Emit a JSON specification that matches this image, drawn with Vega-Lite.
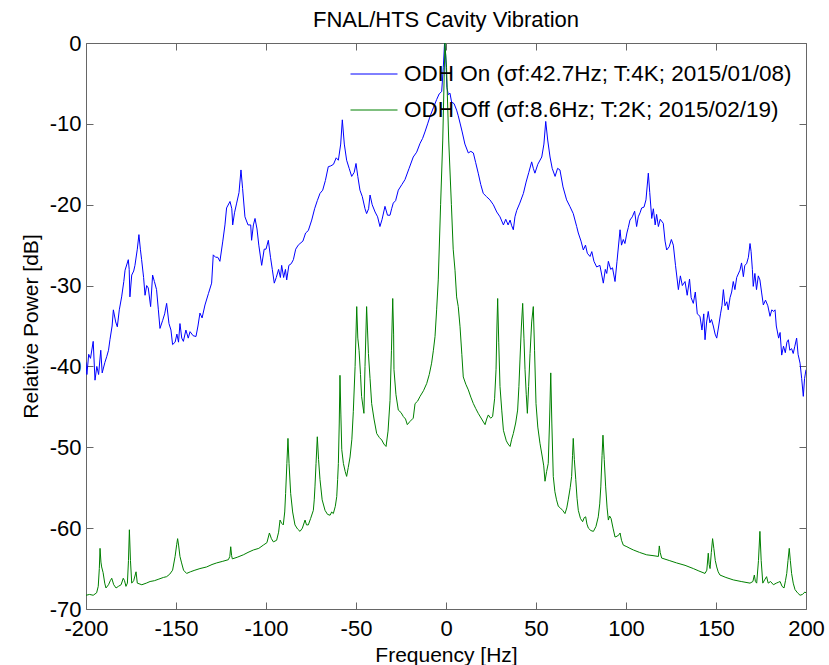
{
  "$schema": "https://vega.github.io/schema/vega-lite/v6.json",
  "width": 720,
  "height": 566,
  "autosize": "none",
  "padding": {"left": 86, "top": 43, "right": 23, "bottom": 56},
  "background": "white",
  "title": {"text": "FNAL/HTS Cavity Vibration", "fontSize": 22, "font": "Liberation Sans", "fontWeight": "normal", "color": "black", "anchor": "middle", "baseline": "bottom", "offset": -22},
  "config": {"view": {"stroke": "#666666", "strokeWidth": 1}, "font": "Liberation Sans"},
  "datasets": {
    "on": [
      {"f":-200,"db":-39.5},{"f":-199.5,"db":-41},{"f":-198.5,"db":-38.5},{"f":-197.5,"db":-39},{"f":-196,"db":-36.9},{"f":-195,"db":-41.7},{"f":-194,"db":-40},{"f":-193,"db":-41},{"f":-191.8,"db":-38},{"f":-191,"db":-40.8},{"f":-189.5,"db":-39.5},{"f":-188.5,"db":-38.8},{"f":-187.5,"db":-38},{"f":-186.7,"db":-36.7},{"f":-185.5,"db":-35},{"f":-184.8,"db":-33},{"f":-183.5,"db":-34.5},{"f":-182.6,"db":-35.1},{"f":-181.5,"db":-33},{"f":-180.2,"db":-31.4},{"f":-179,"db":-29.5},{"f":-178.3,"db":-28.1},{"f":-176.5,"db":-26.8},{"f":-176,"db":-28},{"f":-175.6,"db":-31.4},{"f":-174.6,"db":-28.7},{"f":-173.5,"db":-28.2},{"f":-172.8,"db":-27.5},{"f":-171.5,"db":-25.5},{"f":-170.6,"db":-23.7},{"f":-169.8,"db":-25.5},{"f":-169.1,"db":-26.8},{"f":-168,"db":-29},{"f":-167.2,"db":-31.2},{"f":-166.3,"db":-30},{"f":-165.4,"db":-30.3},{"f":-164.1,"db":-32.6},{"f":-163,"db":-28.7},{"f":-162,"db":-29.5},{"f":-160.8,"db":-30.5},{"f":-159.8,"db":-33},{"f":-158.9,"db":-35.3},{"f":-157.4,"db":-34.3},{"f":-156.3,"db":-33.5},{"f":-155.2,"db":-32.2},{"f":-153.9,"db":-34.7},{"f":-152.8,"db":-35.5},{"f":-151.9,"db":-37.3},{"f":-150.5,"db":-37},{"f":-149.5,"db":-36},{"f":-148.6,"db":-37},{"f":-147.8,"db":-34.7},{"f":-146.8,"db":-36.5},{"f":-145.9,"db":-36.9},{"f":-144.5,"db":-35.5},{"f":-143.2,"db":-36.5},{"f":-142.2,"db":-35.7},{"f":-140.5,"db":-36.2},{"f":-138.9,"db":-36.3},{"f":-137.8,"db":-35},{"f":-136.7,"db":-33.4},{"f":-135.5,"db":-34},{"f":-133.9,"db":-32.4},{"f":-132,"db":-31},{"f":-130.2,"db":-29.7},{"f":-129.3,"db":-26.2},{"f":-128,"db":-26.5},{"f":-126.8,"db":-26.5},{"f":-125.6,"db":-27},{"f":-124,"db":-24.5},{"f":-122.8,"db":-22.5},{"f":-121.9,"db":-20.4},{"f":-120,"db":-19.6},{"f":-119,"db":-20.5},{"f":-118.5,"db":-22.5},{"f":-117.5,"db":-21},{"f":-116.3,"db":-19.8},{"f":-115,"db":-18.5},{"f":-113.9,"db":-15.7},{"f":-113,"db":-18},{"f":-111.7,"db":-21.5},{"f":-110,"db":-22.5},{"f":-108.5,"db":-22.5},{"f":-108,"db":-24.4},{"f":-107,"db":-22.5},{"f":-106.1,"db":-21.7},{"f":-105,"db":-23},{"f":-104,"db":-25},{"f":-102.4,"db":-27.5},{"f":-101,"db":-25.5},{"f":-100,"db":-25.5},{"f":-98.7,"db":-24.4},{"f":-97.5,"db":-26.5},{"f":-96.5,"db":-28},{"f":-95.4,"db":-29.7},{"f":-94.3,"db":-29},{"f":-93,"db":-28},{"f":-92,"db":-29},{"f":-91.3,"db":-27.5},{"f":-90.2,"db":-29},{"f":-89.2,"db":-28},{"f":-88.5,"db":-29.3},{"f":-87.3,"db":-27.5},{"f":-86,"db":-27.3},{"f":-84.8,"db":-26.8},{"f":-83.5,"db":-25.5},{"f":-82.1,"db":-25},{"f":-81.1,"db":-24.8},{"f":-79.5,"db":-24.5},{"f":-78,"db":-23.5},{"f":-76.5,"db":-23.2},{"f":-74.6,"db":-21.9},{"f":-73,"db":-20.5},{"f":-71.5,"db":-19.5},{"f":-70,"db":-18.6},{"f":-68.5,"db":-18.2},{"f":-67,"db":-17},{"f":-65.4,"db":-15.3},{"f":-64,"db":-15.2},{"f":-62.5,"db":-15},{"f":-61,"db":-14.2},{"f":-59.8,"db":-14.5},{"f":-58.5,"db":-12.5},{"f":-57.6,"db":-9.5},{"f":-56.5,"db":-12.5},{"f":-55.2,"db":-14.5},{"f":-53.8,"db":-15.5},{"f":-52.4,"db":-16.5},{"f":-51,"db":-16},{"f":-50,"db":-14.9},{"f":-49,"db":-16.5},{"f":-47.8,"db":-18.2},{"f":-46.5,"db":-19},{"f":-45,"db":-20.5},{"f":-44.1,"db":-21.1},{"f":-43,"db":-20.5},{"f":-42.2,"db":-18.8},{"f":-41,"db":-20},{"f":-39.4,"db":-20.9},{"f":-38,"db":-21.5},{"f":-36.7,"db":-22.7},{"f":-35.5,"db":-21.8},{"f":-33.9,"db":-20.2},{"f":-32.5,"db":-21.3},{"f":-31.1,"db":-21.3},{"f":-30.2,"db":-20.5},{"f":-29.3,"db":-19.8},{"f":-28,"db":-19.5},{"f":-26.5,"db":-18.2},{"f":-24.5,"db":-17.5},{"f":-22.8,"db":-16.9},{"f":-20.5,"db":-15.5},{"f":-18.2,"db":-14.1},{"f":-16.3,"db":-13.5},{"f":-14.4,"db":-12.4},{"f":-13,"db":-11.8},{"f":-11.7,"db":-11},{"f":-10.2,"db":-10},{"f":-8.9,"db":-9.1},{"f":-7,"db":-8},{"f":-5.2,"db":-7},{"f":-3.8,"db":-6.3},{"f":-2.4,"db":-6},{"f":-1.5,"db":-3},{"f":-0.8,"db":0},{"f":-0.2,"db":-1.5},{"f":0.5,"db":-5.5},{"f":1.3,"db":-6.4},{"f":2.2,"db":-6.2},{"f":3.1,"db":-7.3},{"f":4.5,"db":-7.5},{"f":5.9,"db":-8.3},{"f":6.8,"db":-9},{"f":7.8,"db":-9.9},{"f":9,"db":-11},{"f":10.5,"db":-12.5},{"f":12.4,"db":-13.6},{"f":13.8,"db":-13.4},{"f":15.2,"db":-13.6},{"f":16.5,"db":-14.8},{"f":17.9,"db":-16.1},{"f":19.3,"db":-17.5},{"f":20.7,"db":-18.6},{"f":22.5,"db":-19},{"f":24.4,"db":-19.4},{"f":26.3,"db":-20},{"f":28.2,"db":-20.9},{"f":30,"db":-21.5},{"f":31.9,"db":-22.5},{"f":33.2,"db":-21.8},{"f":34.5,"db":-22.5},{"f":35.6,"db":-21.9},{"f":36.5,"db":-22.6},{"f":37.4,"db":-23.1},{"f":38.3,"db":-21.5},{"f":39.3,"db":-20.7},{"f":41,"db":-19.8},{"f":43,"db":-18.6},{"f":44.5,"db":-17.2},{"f":46,"db":-16},{"f":47.6,"db":-14.7},{"f":48.5,"db":-15.5},{"f":49.4,"db":-16.1},{"f":51,"db":-15},{"f":53.2,"db":-14.1},{"f":54.4,"db":-12.5},{"f":55.4,"db":-9.7},{"f":56.5,"db":-12},{"f":57.8,"db":-14.1},{"f":59,"db":-15.5},{"f":60.6,"db":-16.5},{"f":62,"db":-15.5},{"f":63.3,"db":-15.7},{"f":65,"db":-17.8},{"f":67,"db":-19.4},{"f":68.8,"db":-20.2},{"f":70.7,"db":-21.1},{"f":72.6,"db":-22.7},{"f":73.5,"db":-23.5},{"f":75,"db":-24.5},{"f":76.3,"db":-25.6},{"f":77.5,"db":-25},{"f":78.5,"db":-26},{"f":80,"db":-26.4},{"f":81,"db":-25.8},{"f":82.2,"db":-27},{"f":83.7,"db":-27.7},{"f":85.5,"db":-27.5},{"f":87.4,"db":-29.7},{"f":88.5,"db":-28},{"f":89.3,"db":-28.5},{"f":90.2,"db":-27},{"f":91.5,"db":-28},{"f":92.5,"db":-27.8},{"f":93.9,"db":-29.5},{"f":95,"db":-27},{"f":96.7,"db":-23.1},{"f":97.5,"db":-25},{"f":98.5,"db":-24.3},{"f":99.4,"db":-24.8},{"f":100.5,"db":-23.5},{"f":101.3,"db":-22.8},{"f":102.2,"db":-21.9},{"f":103.5,"db":-21.5},{"f":104.8,"db":-20.8},{"f":105.9,"db":-22.7},{"f":106.8,"db":-21.5},{"f":107.8,"db":-21},{"f":108.7,"db":-20.4},{"f":110,"db":-20.3},{"f":111.1,"db":-19.4},{"f":112.4,"db":-16.1},{"f":113.2,"db":-18.5},{"f":114.3,"db":-21.7},{"f":115.2,"db":-20.5},{"f":116.2,"db":-22.5},{"f":117,"db":-21.2},{"f":118,"db":-22.7},{"f":119,"db":-21.8},{"f":120.7,"db":-22.3},{"f":121.7,"db":-24.5},{"f":122.6,"db":-25.6},{"f":124,"db":-25.2},{"f":125.2,"db":-24.3},{"f":126.3,"db":-25},{"f":127.5,"db":-27.5},{"f":129.1,"db":-30.5},{"f":130.2,"db":-28.8},{"f":131.3,"db":-30},{"f":132.8,"db":-29.5},{"f":134,"db":-31.2},{"f":135.3,"db":-29.2},{"f":136.2,"db":-31.5},{"f":137.4,"db":-32.2},{"f":138.5,"db":-30.8},{"f":139.6,"db":-33.5},{"f":141.1,"db":-33.8},{"f":142.2,"db":-35.5},{"f":143.2,"db":-33.5},{"f":143.9,"db":-36.7},{"f":144.8,"db":-34.5},{"f":145.7,"db":-33.2},{"f":146.6,"db":-34.6},{"f":147.5,"db":-34.2},{"f":148.5,"db":-35},{"f":149.5,"db":-36},{"f":150.4,"db":-36.5},{"f":151.5,"db":-35},{"f":152.5,"db":-33.5},{"f":153.3,"db":-32.5},{"f":154.1,"db":-30.5},{"f":155,"db":-32.5},{"f":156,"db":-32},{"f":156.8,"db":-33},{"f":157.8,"db":-31.5},{"f":158.7,"db":-30.8},{"f":159.6,"db":-29.5},{"f":160.5,"db":-30.5},{"f":161.5,"db":-29},{"f":163.3,"db":-28.1},{"f":164.2,"db":-27.2},{"f":165.2,"db":-28.9},{"f":166,"db":-27.5},{"f":167,"db":-27.3},{"f":168,"db":-26.5},{"f":168.9,"db":-24.8},{"f":169.5,"db":-25.8},{"f":170.2,"db":-28},{"f":170.7,"db":-30.1},{"f":171.6,"db":-28.5},{"f":172.5,"db":-30.5},{"f":173.5,"db":-28.8},{"f":174.4,"db":-29.3},{"f":175.3,"db":-30.8},{"f":176.3,"db":-32.4},{"f":177.5,"db":-31.8},{"f":178.8,"db":-32.5},{"f":180,"db":-33.8},{"f":181,"db":-33},{"f":182,"db":-33.2},{"f":182.8,"db":-33},{"f":183.5,"db":-35},{"f":184.8,"db":-36.5},{"f":185.6,"db":-35.8},{"f":186.5,"db":-38.6},{"f":187.5,"db":-37.5},{"f":188.5,"db":-38.3},{"f":189.4,"db":-37},{"f":190.2,"db":-36.7},{"f":191,"db":-38},{"f":192,"db":-37.8},{"f":192.9,"db":-38.4},{"f":193.8,"db":-37.5},{"f":194.8,"db":-36.5},{"f":195.6,"db":-38.5},{"f":196.7,"db":-39.6},{"f":197.6,"db":-41.5},{"f":198.5,"db":-43.7},{"f":199.2,"db":-41.5},{"f":200,"db":-40.4}
    ],
    "off": [
      {"f":-200,"db":-68.3},{"f":-198,"db":-68.2},{"f":-196,"db":-68.3},{"f":-194.1,"db":-68},{"f":-193.2,"db":-67.2},{"f":-192.6,"db":-65},{"f":-192.2,"db":-62.5},{"f":-191.7,"db":-64.2},{"f":-191.3,"db":-64.8},{"f":-190.5,"db":-65.5},{"f":-189.6,"db":-66.8},{"f":-188.9,"db":-67.4},{"f":-187.5,"db":-67},{"f":-186.5,"db":-66.5},{"f":-185.7,"db":-66.2},{"f":-184.6,"db":-67},{"f":-183.3,"db":-67.4},{"f":-182,"db":-67.2},{"f":-180.5,"db":-67},{"f":-179.3,"db":-66.2},{"f":-178.6,"db":-66.5},{"f":-177.8,"db":-67.2},{"f":-177,"db":-66.8},{"f":-176.4,"db":-64},{"f":-175.9,"db":-60.2},{"f":-175.3,"db":-64},{"f":-174.6,"db":-66.8},{"f":-173.5,"db":-66.5},{"f":-172.2,"db":-65.4},{"f":-171.5,"db":-66.8},{"f":-169,"db":-67},{"f":-166.5,"db":-66.8},{"f":-164.4,"db":-66.6},{"f":-162,"db":-66.5},{"f":-159.5,"db":-66.3},{"f":-157,"db":-66.1},{"f":-155.2,"db":-66},{"f":-153.5,"db":-65.7},{"f":-151.9,"db":-65.2},{"f":-150.5,"db":-63.5},{"f":-149.6,"db":-62},{"f":-149.1,"db":-61.3},{"f":-148.5,"db":-62.2},{"f":-147.8,"db":-63.5},{"f":-146.9,"db":-64.3},{"f":-145.8,"db":-65.2},{"f":-144.1,"db":-65.6},{"f":-142,"db":-65.4},{"f":-139.5,"db":-65.2},{"f":-136.7,"db":-65},{"f":-133,"db":-64.8},{"f":-130,"db":-64.5},{"f":-127.4,"db":-64.3},{"f":-124,"db":-64.1},{"f":-120.9,"db":-63.9},{"f":-120.1,"db":-63.5},{"f":-119.6,"db":-62.3},{"f":-119.1,"db":-63.4},{"f":-118.7,"db":-63.8},{"f":-116,"db":-63.6},{"f":-112.6,"db":-63.3},{"f":-110,"db":-63},{"f":-107,"db":-62.7},{"f":-104,"db":-62.5},{"f":-101.5,"db":-62.1},{"f":-99.5,"db":-61.8},{"f":-98.1,"db":-60.6},{"f":-97,"db":-61.3},{"f":-95.9,"db":-61.7},{"f":-94.1,"db":-61.5},{"f":-93,"db":-60.5},{"f":-92.2,"db":-59},{"f":-91.3,"db":-59.4},{"f":-90.4,"db":-59.6},{"f":-89.6,"db":-58},{"f":-89.1,"db":-55.7},{"f":-88.4,"db":-52},{"f":-87.8,"db":-48.9},{"f":-87.2,"db":-52},{"f":-86.3,"db":-55.7},{"f":-85.2,"db":-58},{"f":-83.9,"db":-59.6},{"f":-82.5,"db":-60.1},{"f":-81.1,"db":-60.4},{"f":-79.8,"db":-60},{"f":-78.3,"db":-59},{"f":-77.5,"db":-59.6},{"f":-76.5,"db":-59.6},{"f":-75.2,"db":-58.8},{"f":-73.7,"db":-57.8},{"f":-73.2,"db":-56.5},{"f":-72.8,"db":-54.9},{"f":-72.2,"db":-52},{"f":-71.5,"db":-48.7},{"f":-70.8,"db":-51.5},{"f":-70,"db":-54},{"f":-68.8,"db":-56.5},{"f":-67.2,"db":-57.8},{"f":-65.8,"db":-58.3},{"f":-64.4,"db":-58.4},{"f":-63.5,"db":-58},{"f":-62.6,"db":-58.2},{"f":-61.5,"db":-57.3},{"f":-60.7,"db":-56.1},{"f":-60.2,"db":-54},{"f":-59.8,"db":-52},{"f":-59.3,"db":-47},{"f":-58.9,"db":-41.1},{"f":-58.4,"db":-46},{"f":-57.9,"db":-50.3},{"f":-57,"db":-52},{"f":-56,"db":-53},{"f":-55.2,"db":-53.6},{"f":-54.3,"db":-52.5},{"f":-53.3,"db":-51.2},{"f":-52.3,"db":-49},{"f":-51.5,"db":-45.6},{"f":-50.5,"db":-40},{"f":-49.6,"db":-32.6},{"f":-49,"db":-36.5},{"f":-48.3,"db":-38},{"f":-47.5,"db":-41},{"f":-46.9,"db":-43.7},{"f":-45.6,"db":-45.8},{"f":-45,"db":-40},{"f":-44.1,"db":-32.6},{"f":-43.6,"db":-35.5},{"f":-43.1,"db":-38.4},{"f":-42.2,"db":-41.5},{"f":-41.3,"db":-44.6},{"f":-40,"db":-46.5},{"f":-38.5,"db":-48.3},{"f":-37,"db":-48.8},{"f":-35.7,"db":-49.1},{"f":-34.5,"db":-49.6},{"f":-33.3,"db":-49.9},{"f":-32.2,"db":-48},{"f":-31.1,"db":-44.2},{"f":-30.3,"db":-38},{"f":-29.6,"db":-31.6},{"f":-29.1,"db":-36},{"f":-28.9,"db":-40.4},{"f":-27.8,"db":-43.5},{"f":-26.5,"db":-45.4},{"f":-25,"db":-45.7},{"f":-23.7,"db":-46.2},{"f":-22.5,"db":-46.5},{"f":-21.5,"db":-47.2},{"f":-20,"db":-46.8},{"f":-18.2,"db":-46.4},{"f":-17.2,"db":-44.6},{"f":-15.8,"db":-44.3},{"f":-14.4,"db":-43.7},{"f":-12.5,"db":-43},{"f":-10.7,"db":-42.1},{"f":-9.3,"db":-41},{"f":-8,"db":-39.6},{"f":-7,"db":-38},{"f":-6.1,"db":-36.3},{"f":-5.2,"db":-33},{"f":-4.3,"db":-29.3},{"f":-3,"db":-20},{"f":-1.8,"db":-12},{"f":-0.6,"db":0},{"f":0.3,"db":-3},{"f":1.5,"db":-12},{"f":3,"db":-20},{"f":4,"db":-25.5},{"f":5,"db":-28.1},{"f":5.9,"db":-31.4},{"f":6.8,"db":-32.6},{"f":7.8,"db":-35.1},{"f":8.8,"db":-38.5},{"f":9.6,"db":-41.3},{"f":11,"db":-42.2},{"f":12.4,"db":-42.9},{"f":13.8,"db":-43.8},{"f":15.2,"db":-44.6},{"f":16.5,"db":-45.2},{"f":17.9,"db":-45.8},{"f":19.8,"db":-46.5},{"f":21.7,"db":-47.2},{"f":22.6,"db":-46.5},{"f":23.5,"db":-46},{"f":24.8,"db":-46.4},{"f":25.9,"db":-46.2},{"f":27,"db":-44},{"f":27.8,"db":-40.4},{"f":28.3,"db":-35},{"f":28.7,"db":-31.6},{"f":29.3,"db":-37},{"f":30,"db":-42.5},{"f":31,"db":-45.5},{"f":31.9,"db":-47.9},{"f":33.5,"db":-49.2},{"f":34.5,"db":-49.6},{"f":35.6,"db":-49.9},{"f":36.5,"db":-49},{"f":37.4,"db":-48.3},{"f":38.7,"db":-47},{"f":39.8,"db":-45.4},{"f":40.5,"db":-42.5},{"f":41.1,"db":-39.2},{"f":41.9,"db":-35},{"f":42.6,"db":-32.2},{"f":43.3,"db":-36.5},{"f":43.9,"db":-40.4},{"f":44.6,"db":-43.5},{"f":45.2,"db":-45.8},{"f":45.9,"db":-42.5},{"f":46.7,"db":-38.4},{"f":47.6,"db":-34.5},{"f":48.5,"db":-32.6},{"f":49.2,"db":-38},{"f":50,"db":-44.6},{"f":51,"db":-47.5},{"f":52.2,"db":-49.5},{"f":53.5,"db":-51.2},{"f":54.3,"db":-52.3},{"f":55,"db":-54.2},{"f":55.9,"db":-53},{"f":56.8,"db":-52},{"f":57.5,"db":-47},{"f":58.2,"db":-40.8},{"f":58.8,"db":-47},{"f":59.6,"db":-53.6},{"f":60.5,"db":-55.5},{"f":61.4,"db":-56.5},{"f":62.4,"db":-57.3},{"f":63.5,"db":-57.5},{"f":64.8,"db":-57.8},{"f":66.1,"db":-58.2},{"f":67.1,"db":-57.5},{"f":67.9,"db":-56.5},{"f":69,"db":-55},{"f":69.8,"db":-53.6},{"f":70.3,"db":-51},{"f":70.7,"db":-48.9},{"f":71.3,"db":-51.5},{"f":72.1,"db":-54},{"f":72.8,"db":-56.3},{"f":73.5,"db":-57.8},{"f":74.7,"db":-58.8},{"f":75.9,"db":-59.2},{"f":76.8,"db":-58.7},{"f":77.6,"db":-58.6},{"f":78.3,"db":-59.5},{"f":79.1,"db":-60},{"f":80.5,"db":-60.3},{"f":81.9,"db":-60.4},{"f":83.3,"db":-59.8},{"f":84.6,"db":-58.6},{"f":85.4,"db":-57},{"f":86,"db":-54.9},{"f":86.7,"db":-51},{"f":87.2,"db":-48.5},{"f":87.9,"db":-51.5},{"f":88.7,"db":-54.9},{"f":89.5,"db":-57.5},{"f":90.2,"db":-59},{"f":90.9,"db":-58.5},{"f":91.7,"db":-58.8},{"f":92.8,"db":-60},{"f":93.9,"db":-61.1},{"f":95,"db":-61},{"f":96.2,"db":-60.8},{"f":96.7,"db":-60.6},{"f":97.5,"db":-61.5},{"f":98.5,"db":-62.1},{"f":100.5,"db":-62.3},{"f":102.2,"db":-62.5},{"f":104.1,"db":-62.7},{"f":107.5,"db":-63},{"f":111.5,"db":-63.3},{"f":115,"db":-63.4},{"f":118,"db":-63.5},{"f":118.5,"db":-62.2},{"f":119,"db":-63},{"f":119.8,"db":-63.7},{"f":124,"db":-64},{"f":128.1,"db":-64.3},{"f":132.8,"db":-64.6},{"f":137.4,"db":-65},{"f":140.5,"db":-65.3},{"f":143.9,"db":-65.6},{"f":144.9,"db":-65.2},{"f":145.7,"db":-63.1},{"f":146.2,"db":-64.5},{"f":146.7,"db":-65},{"f":147.4,"db":-63},{"f":148.1,"db":-61.3},{"f":148.8,"db":-62.5},{"f":149.6,"db":-64},{"f":150.4,"db":-64.8},{"f":151.2,"db":-65.4},{"f":152.2,"db":-65.8},{"f":155.5,"db":-66.1},{"f":159.6,"db":-66.4},{"f":164,"db":-66.6},{"f":168.9,"db":-66.8},{"f":170.5,"db":-66.6},{"f":171.3,"db":-65.8},{"f":171.9,"db":-66.6},{"f":172.6,"db":-66.8},{"f":173.6,"db":-64},{"f":174.4,"db":-60.4},{"f":175.1,"db":-64},{"f":176,"db":-66.8},{"f":177,"db":-66.4},{"f":178.1,"db":-66},{"f":179,"db":-66.8},{"f":180.3,"db":-66.6},{"f":181.9,"db":-67},{"f":183.5,"db":-66.8},{"f":184.6,"db":-66.7},{"f":185.6,"db":-66.6},{"f":186.7,"db":-67.2},{"f":187.8,"db":-67.4},{"f":188.6,"db":-66.5},{"f":189.3,"db":-65.6},{"f":190,"db":-64},{"f":190.7,"db":-62.5},{"f":191.3,"db":-64},{"f":192,"db":-65.6},{"f":192.9,"db":-66.8},{"f":193.9,"db":-67.6},{"f":195.3,"db":-68},{"f":196.7,"db":-68.3},{"f":198,"db":-68.2},{"f":199.4,"db":-67.9},{"f":200,"db":-68}
    ]
  },
  "layer": [
    {
      "data": {"name": "on"},
      "mark": {"type": "line", "strokeWidth": 1, "clip": true},
      "encoding": {
        "x": {"field": "f", "type": "quantitative", "sort": null,
          "scale": {"domain": [-200, 200], "nice": false, "zero": false},
          "axis": {"values": [-200,-150,-100,-50,0,50,100,150,200], "labelExpr": "toString(datum.value)", "labelFont": "Liberation Sans", "labelFontSize": 22, "labelColor": "black", "labelPadding": 16, "labelFlush": false, "labelOverlap": false, "tickSize": -7, "tickColor": "#666666", "domain": false, "grid": false, "title": "Frequency [Hz]", "titleFont": "Liberation Sans", "titleFontSize": 21, "titleFontWeight": "normal", "titleColor": "black", "titlePadding": 5}},
        "y": {"field": "db", "type": "quantitative",
          "scale": {"domain": [-70, 0], "nice": false, "zero": false},
          "axis": {"values": [-70,-60,-50,-40,-30,-20,-10,0], "labelExpr": "toString(datum.value)", "labelFont": "Liberation Sans", "labelFontSize": 22, "labelColor": "black", "labelPadding": 12, "labelFlush": false, "labelOverlap": false, "tickSize": -7, "tickColor": "#666666", "domain": false, "grid": false, "title": "Relative Power [dB]", "titleFont": "Liberation Sans", "titleFontSize": 21, "titleFontWeight": "normal", "titleColor": "black", "titlePadding": 8}},
        "color": {"datum": "ODH On (σf:42.7Hz; T:4K; 2015/01/08)",
          "scale": {"domain": ["ODH On (σf:42.7Hz; T:4K; 2015/01/08)", "ODH Off (σf:8.6Hz; T:2K; 2015/02/19)"], "range": ["#0000ff", "#008000"]},
          "legend": {"title": null, "orient": "none", "legendX": 264, "legendY": 7, "symbolType": "stroke", "symbolSize": 2209, "symbolStrokeWidth": 1, "labelFont": "Liberation Sans", "labelFontSize": 22.5, "labelColor": "black", "labelOffset": 6, "labelLimit": 600, "rowPadding": -1, "padding": 0}}
      }
    },
    {
      "data": {"name": "off"},
      "mark": {"type": "line", "strokeWidth": 1, "clip": true},
      "encoding": {
        "x": {"field": "f", "type": "quantitative", "sort": null,
          "axis": {"orient": "top", "values": [-200,-150,-100,-50,0,50,100,150,200], "labels": false, "tickSize": -7, "tickColor": "#666666", "domain": false, "grid": false, "title": null}},
        "y": {"field": "db", "type": "quantitative",
          "axis": {"orient": "right", "values": [-70,-60,-50,-40,-30,-20,-10,0], "labels": false, "tickSize": -7, "tickColor": "#666666", "domain": false, "grid": false, "title": null}},
        "color": {"datum": "ODH Off (σf:8.6Hz; T:2K; 2015/02/19)"}
      }
    }
  ],
  "resolve": {"axis": {"x": "independent", "y": "independent"}}
}
